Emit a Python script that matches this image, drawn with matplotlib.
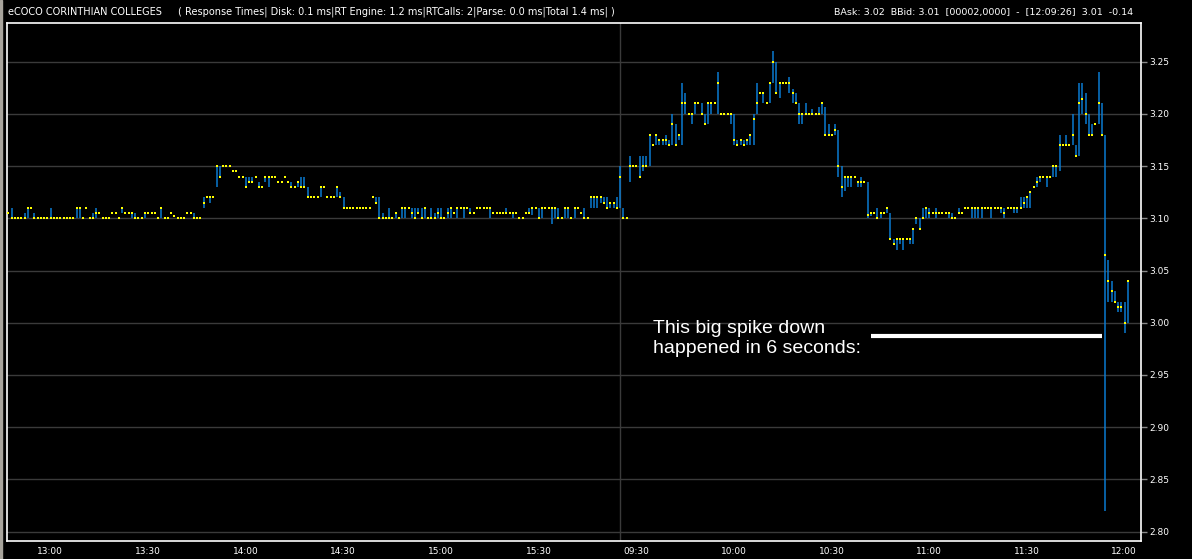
import numpy as np
import matplotlib.pyplot as plt
from matplotlib.patches import Rectangle
from matplotlib.transforms import ScaledTranslation

# header / annotation texts
title_left = "eCOCO CORINTHIAN COLLEGES"
title_info = "( Response Times| Disk: 0.1 ms|RT Engine: 1.2 ms|RTCalls: 2|Parse: 0.0 ms|Total 1.4 ms| )"
title_right = "BAsk: 3.02  BBid: 3.01  [00002,0000]  -  [12:09:26]  3.01  -0.14"
note = "This big spike down\nhappened in 6 seconds:"

# sessions (one bar per minute)
day1_start = "12:52"
day2_start = "09:30"
day1_ticks = ["13:00", "13:30", "14:00", "14:30", "15:00", "15:30"]
day2_ticks = ["09:30", "10:00", "10:30", "11:00", "11:30", "12:00"]
y_ticks = [2.80, 2.85, 2.90, 2.95, 3.00, 3.05, 3.10, 3.15, 3.20, 3.25]

# prices in cents: high / low / close for every minute bar
d1_hi = [310.5, 311, 310, 310, 310, 310.5, 311, 311, 310.5, 310,
         310, 310, 310, 311, 310, 310, 310, 310, 310, 310,
         310, 311, 311, 310, 311, 310, 310.5, 311, 310.5, 310,
         310, 310, 310.5, 310.5, 310, 311, 310.5, 310.5, 310.5, 310.5,
         310, 310, 310.5, 310.5, 310.5, 310.5, 310, 311, 310, 310,
         310.5, 310.2, 310.1, 310, 310, 310.5, 310.5, 310.5, 310, 310,
         312, 312, 312, 312, 315, 315, 315, 315, 315, 314.5,
         314.5, 314, 314, 314, 314, 314, 314, 313.5, 313, 314,
         314, 314, 314, 313.5, 313.5, 314, 313.5, 313.5, 313, 313.5,
         314, 314, 313, 312, 312, 312, 313, 313, 312, 312,
         312, 313, 312.5, 312, 311, 311, 311, 311, 311, 311,
         311, 311, 312, 312, 312, 310.5, 310, 311, 310, 310.5,
         310, 311, 311,
         311, 311, 311, 311, 311, 311, 310, 311, 310.5, 311,
         311, 310, 311, 311, 310.5, 311, 311, 311, 311, 311,
         310.5, 311, 311, 311, 311, 311, 310.5, 310.5, 310.5, 310.5,
         311, 310.5, 310.5, 310.5, 310, 310, 310.5, 311, 311, 311,
         311, 311, 311, 311, 311, 311, 311, 310, 311, 311,
         310, 311, 311, 310.5, 311, 310, 312, 312, 312, 312,
         312, 312, 311.5, 311.5, 312]
d1_lo = [310.5, 310, 310, 310, 310, 310, 310, 311, 310, 310,
         310, 310, 310, 310, 310, 310, 310, 310, 310, 310,
         310, 310, 310, 310, 311, 310, 310, 310, 310.5, 310,
         310, 310, 310.5, 310.5, 310, 310.5, 310.5, 310.5, 310, 310,
         310, 310, 310, 310.5, 310.5, 310.5, 310, 310, 310, 310,
         310.5, 310.2, 310, 310, 310, 310.5, 310.5, 310, 310, 310,
         311, 312, 311.5, 312, 313, 314, 315, 315, 315, 314.5,
         314.5, 314, 314, 313, 313.5, 313.5, 314, 313, 313, 313.5,
         313, 314, 314, 313.5, 313.5, 314, 313.5, 313, 313, 313,
         313, 313, 312, 312, 312, 312, 312, 313, 312, 312,
         312, 312, 312, 311, 311, 311, 311, 311, 311, 311,
         311, 311, 312, 311.5, 310, 310, 310, 310, 310, 310,
         310, 310, 310,
         311, 310, 310, 310.5, 310, 310, 310, 310, 310, 310,
         310, 310, 310, 310, 310.5, 310, 311, 310, 311, 310.5,
         310.5, 311, 311, 311, 311, 310, 310.5, 310.5, 310.5, 310.5,
         310.5, 310.5, 310, 310.5, 310, 310, 310.5, 310.5, 310.3, 311,
         310, 310, 311, 311, 309.5, 310, 310, 310, 310, 310,
         310, 310, 311, 310.5, 310, 310, 311, 311, 311, 311.5,
         311.5, 311, 311, 311, 311]
d1_cl = [310.5, 310, 310, 310, 310, 310, 311, 311, 310, 310,
         310, 310, 310, 310, 310, 310, 310, 310, 310, 310,
         310, 311, 311, 310, 311, 310, 310, 310.5, 310.5, 310,
         310, 310, 310.5, 310.5, 310, 311, 310.5, 310.5, 310.5, 310,
         310, 310, 310.5, 310.5, 310.5, 310.5, 310, 311, 310, 310,
         310.5, 310.2, 310, 310, 310, 310.5, 310.5, 310, 310, 310,
         311.5, 312, 312, 312, 315, 314, 315, 315, 315, 314.5,
         314.5, 314, 314, 313, 313.5, 313.5, 314, 313, 313, 314,
         314, 314, 314, 313.5, 313.5, 314, 313.5, 313, 313, 313.5,
         313, 313, 312, 312, 312, 312, 313, 313, 312, 312,
         312, 313, 312, 311, 311, 311, 311, 311, 311, 311,
         311, 311, 312, 311.5, 310, 310, 310, 310, 310, 310.5,
         310, 311, 311,
         311, 310.5, 310, 310.5, 310, 311, 310, 310, 310, 310.5,
         310, 310, 310.5, 311, 310.5, 311, 311, 311, 311, 310.5,
         310.5, 311, 311, 311, 311, 311, 310.5, 310.5, 310.5, 310.5,
         310.5, 310.5, 310.5, 310.5, 310, 310, 310.5, 310.5, 311, 311,
         310, 311, 311, 311, 311, 311, 310, 310, 311, 311,
         310, 311, 311, 310.5, 310, 310, 312, 312, 312, 312,
         311.5, 311, 311.5, 311.5, 311]

d2_hi = [315, 311, 310, 316, 315, 315, 316, 316, 316, 318,
         317, 318, 317.5, 317.5, 318, 317.5, 320, 319, 318, 323,
         322, 320, 320, 321, 321, 321, 320, 321, 321, 321,
         324, 320, 320, 320, 320, 320, 317.5, 317.5, 317.5, 317.5,
         318, 320, 323, 322, 322, 321, 323, 326, 325, 323,
         323, 323, 323.5, 322.4, 322,
         321, 320, 321, 320, 320.5, 320, 320.7, 321, 320.7, 319,
         318, 319, 318.5, 315, 314, 314, 314, 314, 313.5, 314,
         313.5, 313.5, 310.5, 310.5, 311, 310.5, 310.5, 311, 310.5, 308,
         308, 308, 308, 308, 308, 309, 310, 310, 311, 311,
         311, 310.5, 311, 310.5, 310.5, 310.5, 310.5, 310.5, 310, 311,
         310.5, 311, 311, 311, 311, 311, 311, 311, 311, 311,
         311, 311, 311, 311, 311, 311, 311, 311, 312, 312,
         312, 312.5, 313, 314, 314, 314, 314, 314, 315, 315,
         318, 317, 318, 317, 320, 317, 323, 323, 322, 320,
         319, 319, 324, 321, 318, 306, 304, 303, 302, 302,
         302, 304]
d2_lo = [311, 310, 310, 313.5, 315, 315, 314, 314.5, 315, 315,
         317, 317, 317, 317, 317, 317, 317, 317, 317.5, 317,
         320, 320, 319, 320, 321, 320, 319, 319, 320, 321,
         320, 320, 320, 320, 319, 317, 317, 317, 317, 317,
         317, 317, 320, 322, 321, 321, 321, 323, 322, 321.5,
         323, 323, 322, 321, 321,
         319, 319, 320, 320, 320, 320, 320, 320, 318, 318,
         318, 318, 314, 312, 312.6, 313, 313, 314, 313, 313,
         313.5, 310, 310.2, 310.5, 310, 310, 310.5, 310.5, 308, 307.5,
         307, 307.5, 307, 308, 307.5, 307.5, 309.5, 309, 310, 310,
         310, 310.5, 310, 310.5, 310.5, 310.5, 310, 310, 310, 310.5,
         310.5, 311, 311, 310, 310, 310, 310, 311, 311, 310,
         311, 311, 310.5, 310, 311, 311, 310.5, 310.5, 311, 311,
         311, 311, 313, 313, 313.5, 314, 313, 314, 314, 314,
         314.5, 317, 317, 317, 317, 316, 316, 320, 319, 318,
         318, 319, 319, 318, 282, 302, 302, 302, 301, 301,
         299, 300]
d2_cl = [314, 310, 310, 315, 315, 315, 314, 315, 315, 318,
         317, 318, 317.5, 317.5, 317.5, 317, 319, 317, 318, 321,
         321, 320, 320, 321, 321, 320, 319, 321, 321, 321,
         323, 320, 320, 320, 320, 317.5, 317, 317.5, 317, 317.5,
         318, 319.5, 321, 322, 322, 321, 323, 325, 322, 323,
         323, 323, 323, 322, 321,
         320, 320, 320, 320, 320, 320, 320, 321, 318, 318,
         318, 318.5, 315, 313, 314, 314, 314, 314, 313.5, 313.5,
         313.5, 310.3, 310.5, 310.5, 310, 310.5, 310.5, 311, 308, 307.5,
         308, 308, 308, 308, 308, 309, 310, 309, 310, 311,
         310.5, 310.5, 310.5, 310.5, 310.5, 310.5, 310.5, 310, 310, 310.5,
         310.5, 311, 311, 311, 311, 311, 311, 311, 311, 311,
         311, 311, 311, 310.5, 311, 311, 311, 311, 311, 311.5,
         312, 312.5, 313, 313.5, 314, 314, 314, 314, 315, 315,
         317, 317, 317, 317, 318, 316, 321, 321.4, 320, 318,
         318, 319, 321, 318, 306.5, 304, 303, 302, 301.5, 301.5,
         300, 304]


def minutes(t):
    h, m = t.split(":")
    return int(h) * 60 + int(m)


hi = np.array(d1_hi + d2_hi) / 100
lo = np.array(d1_lo + d2_lo) / 100
cl = np.array(d1_cl + d2_cl) / 100
x = np.arange(len(hi))
n1 = len(d1_hi)

tick_pos = [minutes(t) - minutes(day1_start) for t in day1_ticks]
tick_pos += [n1 + minutes(t) - minutes(day2_start) for t in day2_ticks]
tick_lab = day1_ticks + day2_ticks

fig = plt.figure(figsize=(11.92, 5.59), dpi=100, facecolor="black")
fig.patches.append(Rectangle((0, 0), 2 / 1192, 1, transform=fig.transFigure,
                             color="#a8a49c", zorder=0))
ax = fig.add_axes([7 / 1192, 18 / 559, 1134 / 1192, 518 / 559])
ax.set_facecolor("black")
for s in ax.spines.values():
    s.set_color("white")
    s.set_linewidth(1.2)

ax.set_xlim(-0.4, 348)
ax.set_ylim(2.7909, 3.2871)

# grid + session separator
ax.set_yticks(y_ticks)
ax.set_yticklabels(["%.2f" % v for v in y_ticks])
ax.grid(axis="y", color="#3a3a3a", lw=1)
ax.axvline(n1, color="#3a3a3a", lw=1)

ax.vlines(x, lo, hi, color="#0a7ad0", lw=1.1, zorder=3)
ax.scatter(x, cl, marker="s", s=1.3, color="#ffff00", linewidths=0, zorder=4)

ax.yaxis.tick_right()
ax.tick_params(axis="y", colors="#8a8a8a", labelcolor="white", length=4,
               width=1, pad=2, labelsize=6.5)
ax.set_xticks(tick_pos)
ax.set_xticklabels(tick_lab)
ax.tick_params(axis="x", length=0, labelcolor="white", labelsize=6.5, pad=4)
for lab in ax.get_xticklabels():
    lab.set_horizontalalignment("left")
    lab.set_transform(lab.get_transform() + ScaledTranslation(3 / 100, 0, fig.dpi_scale_trans))

# header
fig.text(8 / 1192, 1 - 12 / 559, title_left, color="white", fontsize=7, va="center")
fig.text(178 / 1192, 1 - 12 / 559, title_info, color="white", fontsize=7, va="center")
fig.text(1133 / 1192, 1 - 12 / 559, title_right, color="white", fontsize=6.8,
         va="center", ha="right")

# annotation
ax.text(198, 3.0027, note, color="white", fontsize=14, family="Liberation Sans",
        va="top", ha="left", linespacing=1.25)
ax.plot([265, 336], [2.9875, 2.9875], color="white", lw=3, solid_capstyle="butt")

fig.savefig("out.png", dpi=100, facecolor="black")
